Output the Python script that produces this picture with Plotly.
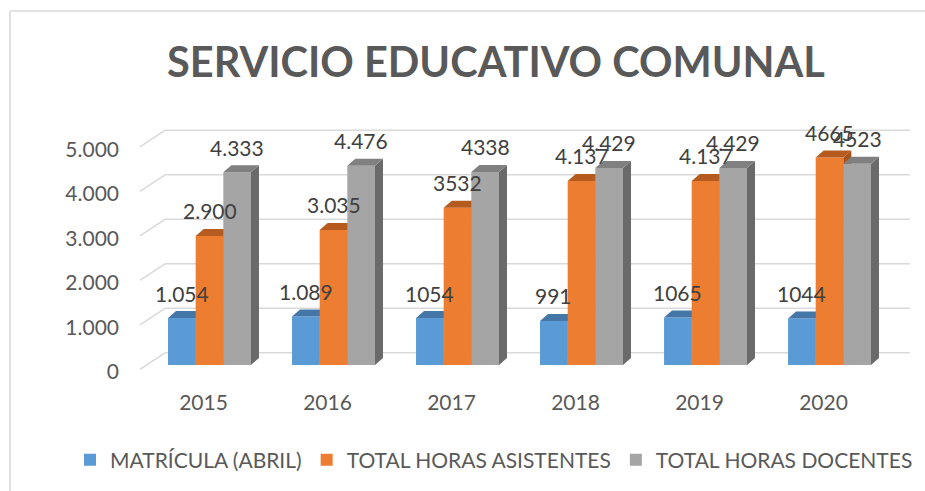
import plotly.graph_objects as go

# ---------------- data ----------------
years = ["2015", "2016", "2017", "2018", "2019", "2020"]
series_names = ["MATRÍCULA (ABRIL)", "TOTAL HORAS ASISTENTES", "TOTAL HORAS DOCENTES"]
matricula = [1054, 1089, 1054, 991, 1065, 1044]
asistentes = [2900, 3035, 3532, 4137, 4137, 4665]
docentes = [4333, 4476, 4338, 4429, 4429, 4523]
matricula_labels = ["1.054", "1.089", "1054", "991", "1065", "1044"]
asistentes_labels = ["2.900", "3.035", "3532", "4.137", "4.137", "4665"]
docentes_labels = ["4.333", "4.476", "4338", "4.429", "4.429", "4523"]
y_tick_values = [0, 1000, 2000, 3000, 4000, 5000]
y_tick_labels = ["0", "1.000", "2.000", "3.000", "4.000", "5.000"]

# ---------------- style ----------------
FONT = "Lato"
front_colors = ["#5B9BD5", "#ED7D31", "#A5A5A5"]
top_colors = ["#4576A8", "#B65B1F", "#808080"]
side_colors = ["#3E6B98", "#A8531C", "#6A6A6A"]
grid_color = "#D9D9D9"

W, H = 925, 491
L_PX, R_PX, T_PX, B_PX = 136, 910, 100, 380
X_RANGE = [-0.5927, 5.649]
Y_RANGE = [-337, 5955]

bar_w = 0.223          # bar width in category units
depth_dx = 0.0645      # 3D depth, x units
depth_dy = 157         # 3D depth, y units
wall_dy = 275          # back wall offset (y units)
wall_x0 = -0.359       # back wall left edge (x units)
floor_x = -0.5605      # front edge of side wall (x units)
floor_dy = -100        # front edge offset (y units)

values = [matricula, asistentes, docentes]
labels = [matricula_labels, asistentes_labels, docentes_labels]
xs = list(range(len(years)))

fig = go.Figure()

for k in range(3):
    xa = "x" if k == 0 else f"x{k+1}"
    ya = "y" if k == 0 else f"y{k+1}"
    off = -1.5 * bar_w + k * bar_w
    fig.add_trace(go.Bar(
        x=xs, y=values[k], width=bar_w, offset=off,
        marker=dict(color=front_colors[k], line=dict(width=0)),
        name=series_names[k], xaxis=xa, yaxis=ya,
        hovertemplate="%{y}<extra>" + series_names[k] + "</extra>",
    ))
    tx, ty, sx, sy = [], [], [], []
    for i, v in zip(xs, values[k]):
        x0 = i + off
        x1 = x0 + bar_w
        tx += [x0, x1, x1 + depth_dx, x0 + depth_dx, x0, None]
        ty += [v, v, v + depth_dy, v + depth_dy, v, None]
        sx += [x1, x1 + depth_dx, x1 + depth_dx, x1, x1, None]
        sy += [0, depth_dy, v + depth_dy, v, 0, None]
    fig.add_trace(go.Scatter(x=sx, y=sy, fill="toself", mode="lines",
                             line=dict(width=0), fillcolor=side_colors[k],
                             showlegend=False, hoverinfo="skip",
                             xaxis=xa, yaxis=ya))
    fig.add_trace(go.Scatter(x=tx, y=ty, fill="toself", mode="lines",
                             line=dict(width=0), fillcolor=top_colors[k],
                             showlegend=False, hoverinfo="skip",
                             xaxis=xa, yaxis=ya))

# data labels
annotations = []
for k in range(3):
    off = -1.5 * bar_w + k * bar_w
    for i, v, t in zip(xs, values[k], labels[k]):
        annotations.append(dict(
            x=i + off + bar_w / 2, y=v, xref="x", yref="y", text=t,
            showarrow=False, yshift=25, yanchor="middle", xanchor="center",
            font=dict(family=FONT, size=21, color="#404040"),
        ))

# back-wall gridlines + side-wall slants
shapes = []
for v in y_tick_values:
    shapes.append(dict(type="line", xref="x", yref="y", layer="below",
                       x0=wall_x0, x1=X_RANGE[1], y0=v + wall_dy, y1=v + wall_dy,
                       line=dict(color=grid_color, width=1.5)))
    shapes.append(dict(type="line", xref="x", yref="y", layer="below",
                       x0=floor_x, x1=wall_x0, y0=v + floor_dy, y1=v + wall_dy,
                       line=dict(color=grid_color, width=1.5)))

# chart border (top and left edges visible in the crop)
pw, ph = R_PX - L_PX, B_PX - T_PX
def px(xp):
    return (xp - L_PX) / pw
def py(yp):
    return (B_PX - yp) / ph
shapes.append(dict(type="line", xref="paper", yref="paper",
                   x0=px(10), x1=px(W + 5), y0=py(11), y1=py(11),
                   line=dict(color=grid_color, width=1.5)))
shapes.append(dict(type="line", xref="paper", yref="paper",
                   x0=px(10), x1=px(10), y0=py(11), y1=py(H + 5),
                   line=dict(color=grid_color, width=1.5)))

axis_common = dict(showgrid=False, zeroline=False, showline=False, automargin=False)
fig.update_layout(
    width=W, height=H,
    margin=dict(l=L_PX, r=W - R_PX, t=T_PX, b=H - B_PX, pad=0, autoexpand=False),
    paper_bgcolor="white", plot_bgcolor="white",
    showlegend=True,
    title=dict(text="<b>SERVICIO EDUCATIVO COMUNAL</b>", xref="paper",
               x=px(496), xanchor="center", yref="container", y=1 - 62 / H,
               yanchor="middle",
               font=dict(family=FONT, size=41.5, color="#595959")),
    legend=dict(orientation="h", xref="paper", xanchor="left", x=px(70),
                yref="paper", yanchor="middle", y=py(460),
                font=dict(family=FONT, size=21, color="#595959"),
                itemclick=False, itemdoubleclick=False),
    xaxis=dict(range=X_RANGE, tickmode="array", tickvals=xs, ticktext=years,
               tickfont=dict(family=FONT, size=21, color="#595959"),
               ticklabelshift=-6, ticklabelstandoff=8, **axis_common),
    yaxis=dict(range=Y_RANGE, tickmode="array", tickvals=y_tick_values,
               ticktext=y_tick_labels,
               tickfont=dict(family=FONT, size=21, color="#595959"),
               ticklabelshift=7, ticklabelstandoff=16, **axis_common),
    xaxis2=dict(range=X_RANGE, overlaying="x", visible=False),
    yaxis2=dict(range=Y_RANGE, overlaying="y", visible=False),
    xaxis3=dict(range=X_RANGE, overlaying="x", visible=False),
    yaxis3=dict(range=Y_RANGE, overlaying="y", visible=False),
    annotations=annotations,
    shapes=shapes,
)

fig.write_html("out.html", config={"displayModeBar": False},
               post_script="document.body.style.margin='0';")
